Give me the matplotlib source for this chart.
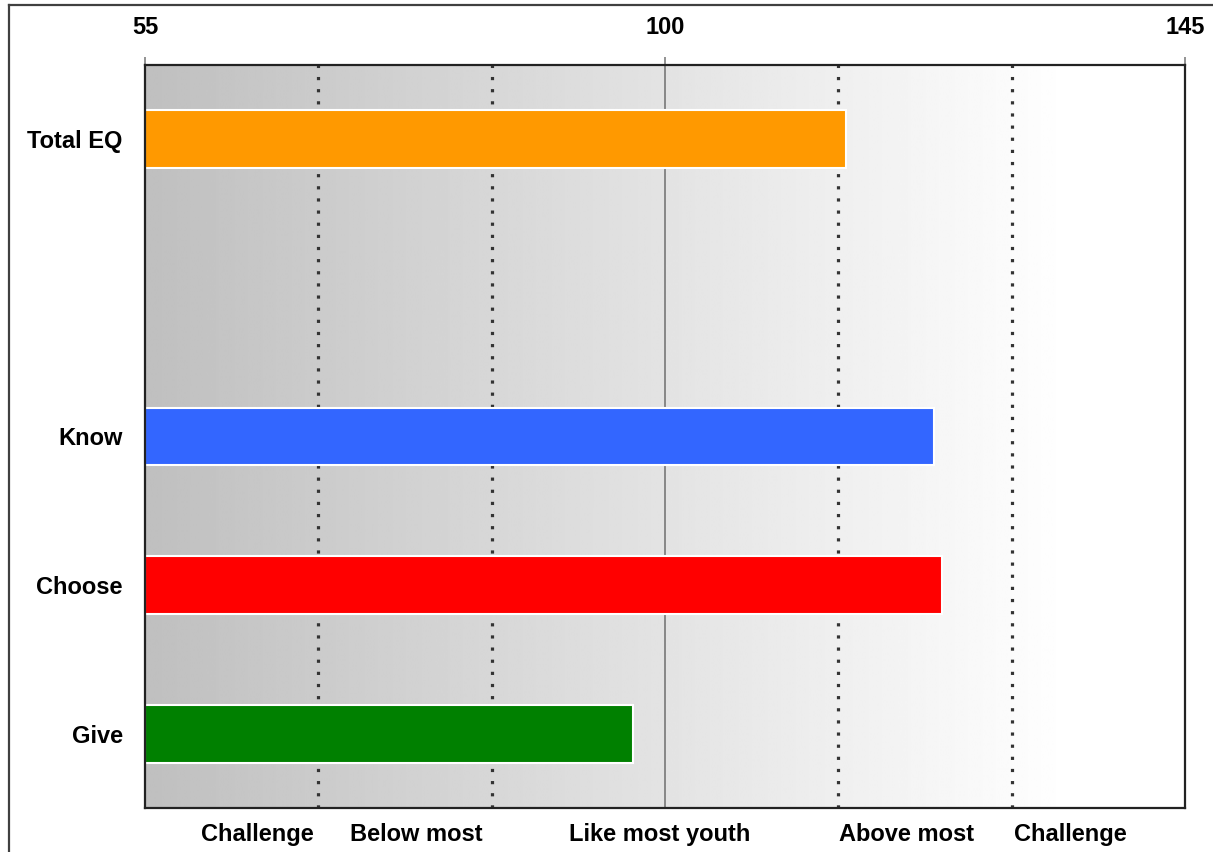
import numpy as np
import matplotlib.pyplot as plt
import matplotlib.transforms as mtransforms
from matplotlib.lines import Line2D

plt.rcParams['font.family'] = ['Liberation Sans', 'DejaVu Sans']

# scale scores
categories = ['Total EQ', '', 'Know', 'Choose', 'Give']
scores = [115.7, np.nan, 123.3, 124.0, 97.2]
colors = ['#FF9900', 'white', '#3366FF', '#FF0000', '#008000']

x_min, x_max = 55, 145
x_ticks = [55, 100, 145]
band_edges = [70, 85, 115, 130]      # dotted separators
band_labels = ['Challenge', 'Below most', 'Like most youth', 'Above most', 'Challenge']
band_label_x = [64.7, 78.5, 99.5, 120.9, 135.1]

fs = 17

fig = plt.figure(figsize=(12.13, 8.52), dpi=100)
ax = fig.add_axes([145 / 1213, 1 - 808 / 852, 1040 / 1213, 743 / 852])

# grey-to-white shading behind the bars
grad_x = np.linspace(x_min, x_max, 400)
shade = np.clip(0.75 + 0.25 * (grad_x - x_min) / 80.0, 0, 1)
ax.imshow(np.tile(shade, (2, 1)), cmap='gray', vmin=0, vmax=1, aspect='auto',
          extent=[x_min, x_max, 4.5, -0.5], zorder=0, interpolation='bilinear')

for xe in band_edges:
    ax.axvline(xe, color='#333333', lw=2.3, linestyle=(0, (1, 2.8)), zorder=1)
ax.axvline(100, color='#808080', lw=1.3, zorder=1)

ypos = np.arange(len(categories))
for y, s, c in zip(ypos, scores, colors):
    if np.isnan(s):
        continue
    ax.barh(y, s - x_min, left=x_min, height=0.39, color=c,
            edgecolor='white', linewidth=1.5, zorder=2)

ax.set_xlim(x_min, x_max)
ax.set_ylim(4.5, -0.5)
ax.set_yticks(ypos)
ax.set_yticklabels(categories, fontsize=fs, fontweight='bold')
ax.tick_params(axis='y', length=0, pad=16)

ax.xaxis.tick_top()
ax.set_xticks(x_ticks)
ax.set_xticklabels([str(t) for t in x_ticks], fontsize=fs, fontweight='bold')
ax.tick_params(axis='x', length=6, width=1.2, color='#808080', pad=13)

for sp in ax.spines.values():
    sp.set_color('#222222')
    sp.set_linewidth(1.6)
    sp.set_zorder(3)

trans = mtransforms.blended_transform_factory(ax.transData, ax.transAxes)
for lx, lab in zip(band_label_x, band_labels):
    ax.text(lx, -0.036, lab, transform=trans, ha='center', va='center',
            fontsize=fs, fontweight='bold')

# outer frame: top and left edges
fig.add_artist(Line2D([9 / 1213, 9 / 1213], [0, 1 - 5 / 852], transform=fig.transFigure,
                      color='#404040', lw=1.6))
fig.add_artist(Line2D([9 / 1213, 1], [1 - 5 / 852, 1 - 5 / 852], transform=fig.transFigure,
                      color='#404040', lw=1.6))

fig.savefig('out.png', dpi=100)
